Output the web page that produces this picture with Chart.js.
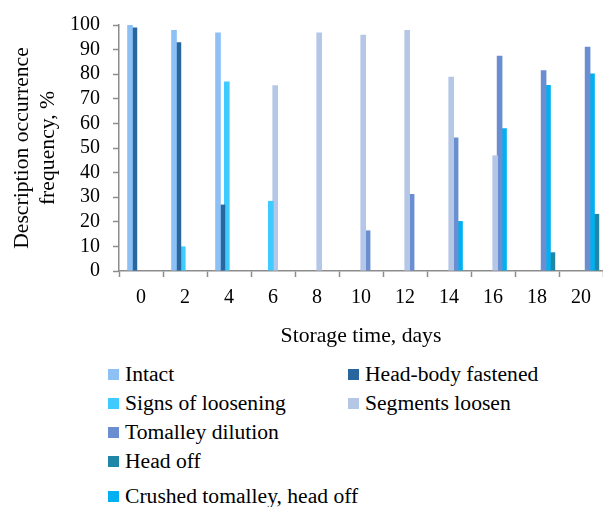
<!DOCTYPE html>
<html>
<head>
<meta charset="utf-8">
<script src="https://cdn.jsdelivr.net/npm/chart.js@4.4.0/dist/chart.umd.min.js"></script>
<style>
  body { margin: 0; background: #fff; }
  #wrap { position: relative; width: 603px; height: 507px; font-family: 'Liberation Serif', 'Times New Roman', serif; }
  #box { position: absolute; left: 0; top: 0; width: 603px; height: 360px; }
  .item { position: absolute; font-size: 21.6px; line-height: 25px; color: #000; white-space: nowrap; padding-left: 17px; }
  .item .sw { position: absolute; left: 0; top: 7px; width: 11px; height: 11px; }
</style>
</head>
<body>
<div id="wrap">
  <div id="box"><canvas id="occChart"></canvas></div>
  <div id="legend"></div>
</div>
<script>
// jours de stockage
const days = ['0', '2', '4', '6', '8', '10', '12', '14', '16', '18', '20'];

const intact    = [100, 98, 97, null, null, null, null, null, null, null, null];
const headBody  = [99, 93, 27, null, null, null, null, null, null, null, null];
const signs     = [null, 10, 77, 28.5, null, null, null, null, null, null, null];
const segments  = [null, null, null, 75.5, 97, 96, 98, 79, 47, null, null];
const tomalley  = [null, null, null, null, null, 16.5, 31.3, 54.3, 87.5, 81.6, 91.2];
const crushed   = [null, null, null, null, null, null, null, 20.3, 58, 75.6, 80.3];
const headOff   = [null, null, null, null, null, null, null, null, null, 7.6, 23.2];

const yTicks = [0, 10, 20, 30, 40, 50, 60, 70, 80, 90, 100];

const font = 'Liberation Serif';
const axisGray = '#8c8c8c';

// ordre des barres dans chaque groupe
const series = [
    { label: 'Intact', data: intact, color: '#8dc0f5' },
    { label: 'Head-body fastened', data: headBody, color: '#28669e' },
    { label: 'Signs of loosening', data: signs, color: '#3fcbff' },
    { label: 'Segments loosen', data: segments, color: '#b4c7e7' },
    { label: 'Tomalley dilution', data: tomalley, color: '#6a8ed0' },
    { label: 'Crushed tomalley, head off', data: crushed, color: '#00b0f0' },
    { label: 'Head off', data: headOff, color: '#2086a8' }
];

// empty slot first: shifts the groups a little to the right, like the original
const datasets = [{ label: '', data: days.map(() => null), backgroundColor: 'rgba(0,0,0,0)' }]
    .concat(series.map(s => ({
        label: s.label,
        data: s.data,
        backgroundColor: s.color,
        borderWidth: 0
    })));

const ctx = document.getElementById('occChart').getContext('2d');
const chart = new Chart(ctx, {
    type: 'bar',
    data: { labels: days, datasets: datasets },
    options: {
        responsive: true,
        maintainAspectRatio: false,
        animation: false,
        categoryPercentage: 0.8,
        barPercentage: 1.28,
        layout: { padding: { top: 21, right: 0, bottom: 0, left: 0 } },
        plugins: {
            legend: { display: false },
            tooltip: { enabled: false }
        },
        scales: {
            x: {
                offset: true,
                grid: { offset: true, drawOnChartArea: false, tickLength: 6, tickColor: axisGray, tickWidth: 1.5 },
                border: { color: axisGray, width: 1.5 },
                ticks: { color: '#000', font: { family: font, size: 20 }, padding: 9, maxRotation: 0, autoSkip: false },
                title: {
                    display: true, text: 'Storage time, days', color: '#000',
                    font: { family: font, size: 21.7 }, padding: { top: 0, bottom: 11 }
                },
                afterFit: (s) => { s.height = 89; }
            },
            y: {
                min: 0,
                max: 100,
                afterBuildTicks: (s) => { s.ticks = yTicks.map(v => ({ value: v })); },
                grid: { drawOnChartArea: false, tickLength: 6, tickColor: axisGray, tickWidth: 1.5 },
                border: { color: axisGray, width: 1.5 },
                ticks: { color: '#000', font: { family: font, size: 20 }, padding: 13, autoSkip: false },
                title: {
                    display: true, text: ['Description occurrence', 'frequency, %'], color: '#000',
                    font: { family: font, size: 21.7 }, padding: { top: 9, bottom: 0 }
                },
                afterFit: (s) => { s.width = 119; }
            }
        }
    }
});

// légende à la main (deux colonnes irrégulières)
const legendPos = {
    'Intact': [108, 374],
    'Head-body fastened': [348, 374],
    'Signs of loosening': [108, 403],
    'Segments loosen': [348, 403],
    'Tomalley dilution': [108, 432],
    'Head off': [108, 461],
    'Crushed tomalley, head off': [108, 496]
};
const legend = document.getElementById('legend');
chart.data.datasets.forEach(ds => {
    const p = legendPos[ds.label];
    if (!p) return;
    const el = document.createElement('div');
    el.className = 'item';
    el.style.left = p[0] + 'px';
    el.style.top = (p[1] - 12.5) + 'px';
    const sw = document.createElement('span');
    sw.className = 'sw';
    sw.style.background = ds.backgroundColor;
    el.appendChild(sw);
    el.appendChild(document.createTextNode(ds.label));
    legend.appendChild(el);
});
</script>
</body>
</html>
